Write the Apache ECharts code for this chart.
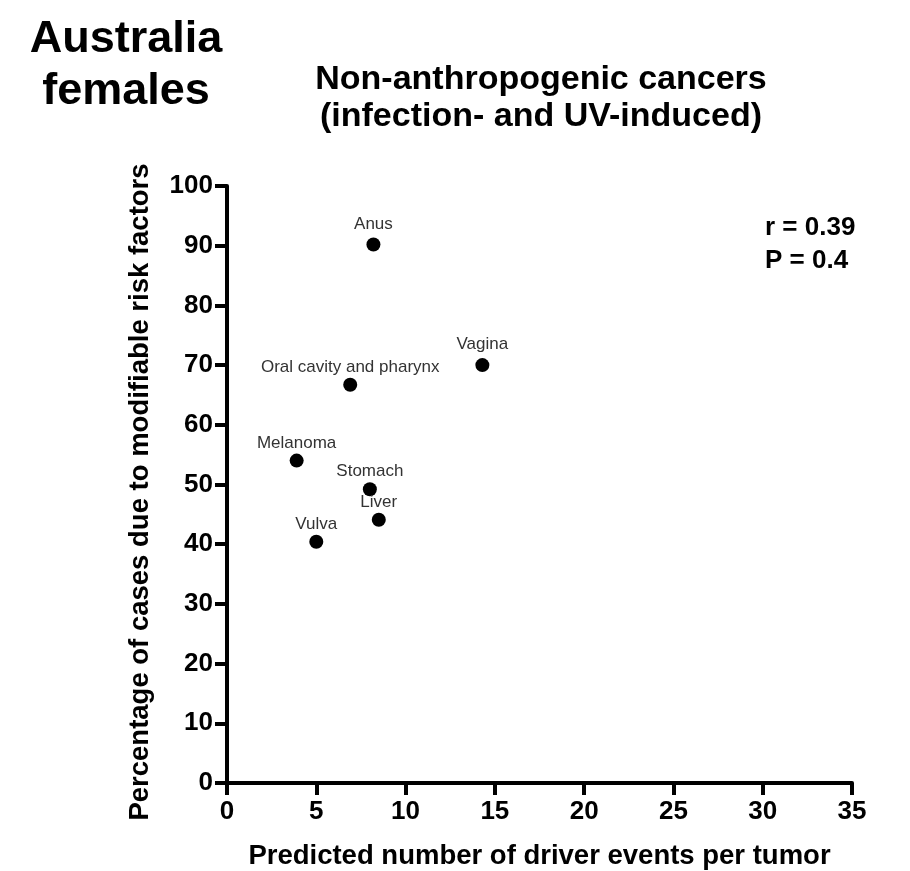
<!DOCTYPE html>
<html>
<head>
<meta charset="utf-8">
<script src="https://cdn.jsdelivr.net/npm/echarts@6/dist/echarts.min.js"></script>
<style>
  html, body { margin: 0; padding: 0; background: #fff; }
  #chart { width: 910px; height: 871px; }
</style>
</head>
<body>
<div id="chart"></div>
<script>
// Cancer sites (infection- and UV-induced), Australian females
var sites = ['Anus', 'Vagina', 'Oral cavity and pharynx', 'Melanoma', 'Stomach', 'Liver', 'Vulva'];
// Predicted number of driver events per tumor
var driverEvents = [8.2, 14.3, 6.9, 3.9, 8.0, 8.5, 5.0];
// Percentage of cases due to modifiable risk factors
var modifiablePct = [90.2, 70.0, 66.7, 54.0, 49.2, 44.1, 40.4];

var xTicks = { min: 0, max: 35, step: 5 };
var yTicks = { min: 0, max: 100, step: 10 };

var statsLines = ['r = 0.39', 'P = 0.4'];

var FONT = "Arial, 'Liberation Sans', Helvetica, sans-serif";

var points = sites.map(function (name, i) {
  var lifted = (name === 'Anus' || name === 'Vagina');
  return {
    name: name,
    value: [driverEvents[i], modifiablePct[i]],
    label: { distance: lifted ? 5 : 2 }
  };
});

var axisLineStyle = { color: '#000', width: 4 };

var chart = echarts.init(document.getElementById('chart'), null, { renderer: 'canvas' });

chart.setOption({
  backgroundColor: '#fff',
  animation: false,
  grid: { left: 227, right: 58, top: 186, bottom: 88, containLabel: false, outerBoundsMode: 'none' },
  xAxis: {
    type: 'value',
    min: xTicks.min, max: xTicks.max, interval: xTicks.step,
    axisLine: { show: true, onZero: false, lineStyle: axisLineStyle },
    axisTick: { show: true, length: 12, lineStyle: { color: '#000', width: 4 } },
    splitLine: { show: false },
    axisLabel: { color: '#000', fontSize: 26, fontWeight: 'bold', fontFamily: FONT, margin: 16 },
    name: 'Predicted number of driver events per tumor',
    nameLocation: 'middle',
    nameGap: 59,
    nameTextStyle: { color: '#000', fontSize: 27.5, fontWeight: 'bold', fontFamily: FONT }
  },
  yAxis: {
    type: 'value',
    min: yTicks.min, max: yTicks.max, interval: yTicks.step,
    axisLine: { show: true, onZero: false, lineStyle: axisLineStyle },
    axisTick: { show: true, length: 12, lineStyle: { color: '#000', width: 4 } },
    splitLine: { show: false },
    axisLabel: { color: '#000', fontSize: 26, fontWeight: 'bold', fontFamily: FONT, margin: 14 }
  },
  series: [{
    type: 'scatter',
    symbol: 'circle',
    symbolSize: 14,
    itemStyle: { color: '#000', opacity: 1 },
    label: {
      show: true,
      position: 'top',
      formatter: function (p) { return p.name; },
      color: '#333',
      fontSize: 17,
      fontFamily: FONT
    },
    data: points
  }],
  graphic: [
    {
      type: 'text', x: 126, y: 40,
      style: { text: 'Australia', font: 'bold 45px ' + FONT, fill: '#000', align: 'center', verticalAlign: 'middle' }
    },
    {
      type: 'text', x: 126, y: 92,
      style: { text: 'females', font: 'bold 45px ' + FONT, fill: '#000', align: 'center', verticalAlign: 'middle' }
    },
    {
      type: 'text', x: 541, y: 80,
      style: { text: 'Non-anthropogenic cancers', font: 'bold 34px ' + FONT, fill: '#000', align: 'center', verticalAlign: 'middle' }
    },
    {
      type: 'text', x: 541, y: 117,
      style: { text: '(infection- and UV-induced)', font: 'bold 34px ' + FONT, fill: '#000', align: 'center', verticalAlign: 'middle' }
    },
    {
      type: 'text', x: 140, y: 492, rotation: Math.PI / 2,
      style: { text: 'Percentage of cases due to modifiable risk factors', font: 'bold 27.5px ' + FONT, fill: '#000', align: 'center', verticalAlign: 'middle' }
    },
    {
      type: 'text', x: 765, y: 228,
      style: { text: statsLines[0], font: 'bold 26px ' + FONT, fill: '#000', align: 'left', verticalAlign: 'middle' }
    },
    {
      type: 'text', x: 765, y: 261,
      style: { text: statsLines[1], font: 'bold 26px ' + FONT, fill: '#000', align: 'left', verticalAlign: 'middle' }
    }
  ]
});
</script>
</body>
</html>
